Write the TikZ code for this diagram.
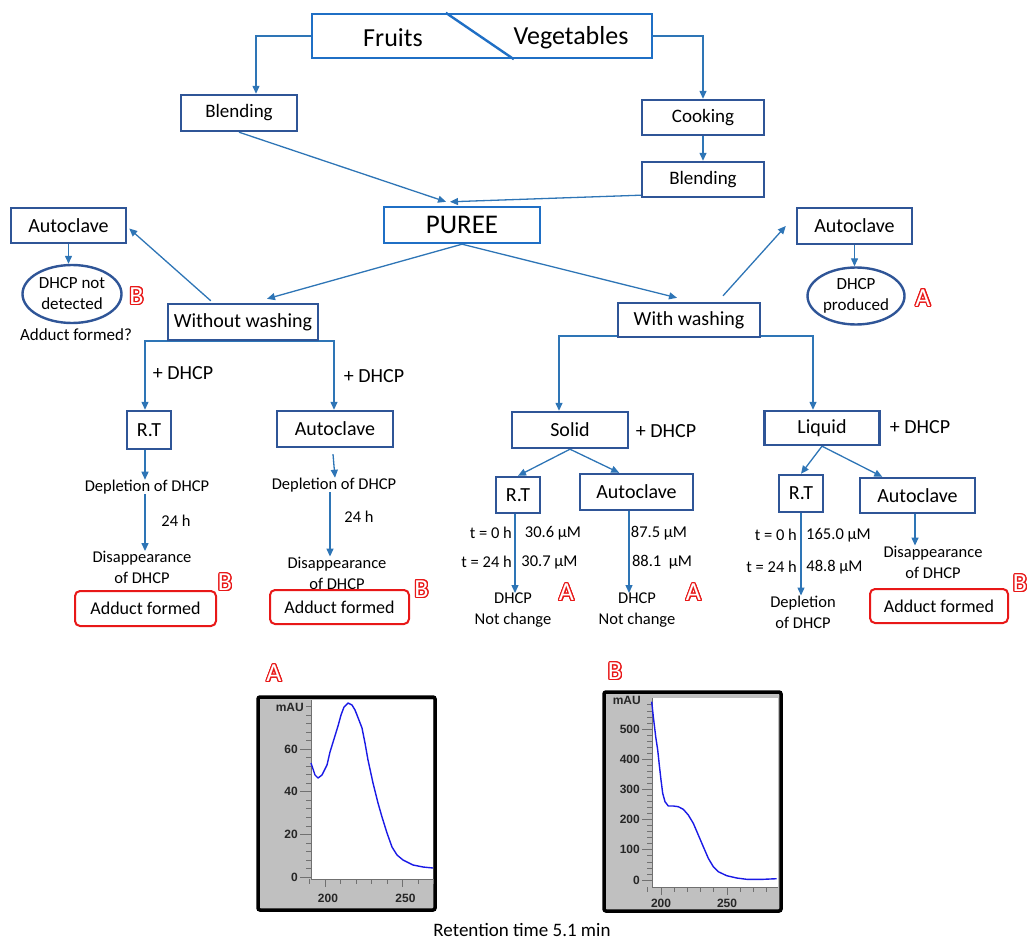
\documentclass[tikz,border=0pt]{standalone}
\usepackage{fontspec}
\setmainfont{Carlito}
\newfontfamily\plotfont{Liberation Sans}
\usepackage{contour}
\contourlength{1.2pt}
\usetikzlibrary{arrows.meta,shapes.geometric,calc}
\definecolor{connc}{HTML}{2E75B6}
\definecolor{boxc}{HTML}{2F5597}
\definecolor{topc}{HTML}{1F6FC5}
\definecolor{redc}{HTML}{E81818}
\definecolor{plotgray}{HTML}{C0C0C0}
\definecolor{curvec}{HTML}{1A1AE6}
\definecolor{tickc}{HTML}{707070}
\pgfdeclarelayer{bg}
\pgfsetlayers{bg,main}
\newcommand\outl[1]{\contour{redc}{\textcolor{white}{#1}}}
\begin{document}
\begin{tikzpicture}[x=1pt,y=-1pt,
  >={Triangle[length=8pt,width=7pt]},
  box/.style={draw=boxc, line width=2.4pt, fill=white, inner sep=0pt, font=\fontsize{20}{24}\selectfont},
  tbox/.style={box, draw=topc},
  bbox/.style={box, font=\fontsize{19}{23}\selectfont},
  oval/.style={ellipse, draw=boxc, line width=2.4pt, fill=white, inner sep=0pt, minimum width=99pt, minimum height=58pt, align=center, font=\fontsize{17}{21}\selectfont},
  conn/.style={draw=connc, line width=1.3pt, ->},
  lbl/.style={inner sep=0pt, align=center, font=\fontsize{16.5}{21}\selectfont},
  plus/.style={inner sep=0pt, font=\fontsize{20}{24}\selectfont},
  redbox/.style={draw=redc, line width=2pt, rounded corners=5pt, fill=white, inner sep=0pt, font=\fontsize{18}{22}\selectfont},
  letter/.style={inner sep=0pt, font=\fontsize{26}{26}\selectfont},
  plbl/.style={inner sep=0pt, font=\plotfont\bfseries\fontsize{12}{12}\selectfont, text=black!85},
  frame/.style={draw=black, line width=3.5pt, fill=plotgray, rounded corners=2pt},
  curve/.style={draw=curvec, line width=1.4pt, line join=round}
]
\useasboundingbox (0,0) rectangle (1027,941);

% ---------- top ----------
\node[tbox, minimum width=340pt, minimum height=44pt] (top) at (482,36) {};
\node[inner sep=0pt, font=\fontsize{26}{30}\selectfont] (fr) at (393,38) {Fruits};
\node[inner sep=0pt, font=\fontsize{26}{30}\selectfont] (vg) at (571,38) {Vegetables};
\draw[topc, line width=2.4pt] ($(top.north west)+(135,0)$) -- ($(top.south west)+(203,0)$);

\node[bbox, minimum width=116pt, minimum height=36pt] (blend1) at (239,113) {Blending};
\node[bbox, minimum width=122pt, minimum height=35pt] (cook) at (703,117.5) {Cooking};
\node[bbox, minimum width=122pt, minimum height=35pt] (blend2) at (703,179.5) {Blending};
\node[tbox, minimum width=156pt, minimum height=36pt, font=\fontsize{27}{30}\selectfont] (puree) at (462,225) {PUREE};

\node[box, minimum width=115pt, minimum height=35pt] (auto1) at (68.5,225.5) {Autoclave};
\node[oval] (nd) at (72,294) {DHCP not\\detected};
\node[lbl, font=\fontsize{17}{21}\selectfont] (adq) at (76,335) {Adduct formed?};
\node[letter] (b1) at (136.5,296.5) {\outl{B}};
\node[box, minimum width=150pt, minimum height=36pt] (ww) at (243,322) {Without washing};

\node[box, minimum width=115pt, minimum height=36pt] (auto2) at (854.5,226) {Autoclave};
\node[oval, minimum width=97pt, minimum height=57pt] (dp) at (856,296) {DHCP\\produced};
\node[letter] (a1) at (923,298.5) {\outl{A}};
\node[box, minimum width=142pt, minimum height=34pt] (wash) at (689,320) {With washing\hspace{12pt}};

% ---------- without washing ----------
\node[box, minimum width=44pt, minimum height=38pt] (rt1) at (149,430) {R.T};
\node[box, minimum width=116pt, minimum height=36pt] (au3) at (335,429) {Autoclave};
\node[plus] (pd1) at (183,373) {+ DHCP};
\node[plus] (pd2) at (374,376) {+ DHCP};
\node[lbl] (dep1) at (147,487) {Depletion of DHCP};
\node[lbl] (h1) at (176,521) {24 h};
\node[lbl] (dis1) at (142,567.5) {Disappearance\\of DHCP};
\node[redbox, minimum width=141pt, minimum height=35pt] (ad1) at (145.5,608.5) {Adduct formed};
\node[letter] (b2) at (225,583) {\outl{B}};
\node[lbl] (dep2) at (334,485) {Depletion of DHCP};
\node[lbl] (h2) at (359,517) {24 h};
\node[lbl] (dis2) at (337,573) {Disappearance\\of DHCP};
\node[redbox, minimum width=139pt, minimum height=34pt] (ad2) at (339.5,607) {Adduct formed};
\node[letter] (b3) at (421.5,589.5) {\outl{B}};

% ---------- solid ----------
\node[box, minimum width=116pt, minimum height=36pt] (solid) at (570,430) {Solid};
\node[plus] (pd3) at (666,431) {+ DHCP};
\node[box, minimum width=44pt, minimum height=36pt] (srt) at (518,495) {R.T};
\node[box, minimum width=113pt, minimum height=36pt] (sau) at (636.5,492) {Autoclave};
\node[lbl, anchor=east] (st0) at (512,533) {t = 0 h};
\node[lbl] (sv0) at (553,533) {30.6 μM};
\node[lbl, anchor=east] (st24) at (512,562) {t = 24 h};
\node[lbl] (sv24) at (549.5,562) {30.7 μM};
\node[lbl] (av0) at (659,533) {87.5 μM};
\node[lbl] (av24) at (662,562) {88.1\ \ μM};
\node[lbl] (sdh1) at (513,610.5) {DHCP\\Not change};
\node[lbl] (sdh2) at (637,610.5) {DHCP\\Not change};
\node[letter] (a2) at (566.5,593) {\outl{A}};
\node[letter] (a3) at (693.5,593) {\outl{A}};

% ---------- liquid ----------
\node[box, minimum width=115pt, minimum height=34pt] (liquid) at (822,428) {Liquid};
\node[plus] (pd4) at (920,427) {+ DHCP};
\node[box, minimum width=44pt, minimum height=37pt] (lrt) at (801,493.5) {R.T};
\node[box, minimum width=115pt, minimum height=35pt] (lau) at (917.5,495.5) {Autoclave};
\node[lbl, anchor=east] (lt0) at (797,535) {t = 0 h};
\node[lbl] (lv0) at (838.5,535) {165.0 μM};
\node[lbl, anchor=east] (lt24) at (797,567) {t = 24 h};
\node[lbl] (lv24) at (834.5,567) {48.8 μM};
\node[lbl] (ldep) at (803,612) {Depletion\\of DHCP};
\node[lbl] (ldis) at (933,562) {Disappearance\\of DHCP};
\node[redbox, minimum width=138pt, minimum height=34pt] (ad3) at (939,606) {Adduct formed};
\node[letter] (b4) at (1020,584) {\outl{B}};

% ---------- connectors ----------
\begin{pgfonlayer}{bg}
\draw[conn] (top.west) -| ($(blend1.north)+(17,0)$);
\draw[conn] (top.east) -| (cook.north);
\draw[conn] (cook.south) -- (blend2.north);
\draw[conn] (blend1.south) -- ($(puree.north)+(-16,-4)$);
\draw[conn] ($(blend2.south west)+(0,-3)$) -- ($(puree.north)+(-12,-4)$);
\draw[conn] (puree.south) -- ($(ww.north)+(24,-4)$);
\draw[conn] (puree.south) -- ($(wash.north)+(-12,-4)$);
\draw[conn] ($(ww.north west)+(44,-2)$) -- ($(auto1.east)+(2,3)$);
\draw[conn] ($(wash.north)+(34,-6)$) -- ($(auto2.west)+(-10,0)$);
\draw[conn] (auto1.south) -- (auto1.south |- nd.north);
\draw[conn] (auto2.south) -- (auto2.south |- dp.north);

\coordinate (wl) at (145,341);
\coordinate (wr) at (334,341);
\draw[conn,<->] (rt1.north -| wl) -- (wl) -- (wr) -- (au3.north -| wr);
\draw[conn] (rt1.south -| wl) -- (dep1.north -| wl);
\draw[conn] (dep1.south -| wl) -- (dis1.north -| wl);
\draw[conn] ($(au3.south)+(-2,6)$) -- (dep2.north -| au3.south);
\coordinate (c2) at (330,0);
\draw[conn] (dep2.south -| c2) -- (dis2.north -| c2);

\coordinate (sl) at (559,336);
\coordinate (sr) at (813,336);
\draw[conn,<->] (solid.north -| sl) -- (sl) -- (sr) -- (liquid.north -| sr);
\draw[conn] (solid.south) -- (srt.north);
\draw[conn] (solid.south) -- ($(sau.north west)!0.35!(sau.north east)$);
\coordinate (c3) at (515,0);
\draw[conn] (srt.south -| c3) -- (sdh1.north -| c3);
\coordinate (c4) at (629,0);
\draw[conn] (sau.south -| c4) -- (sdh2.north -| c4);
\draw[conn] (liquid.south) -- (lrt.north);
\draw[conn] (liquid.south) -- ($(lau.north west)!0.2!(lau.north east)$);
\draw[conn] (lrt.south) -- (ldep.north -| lrt.south);
\coordinate (c5) at (915,0);
\draw[conn] (lau.south -| c5) -- (ldis.north -| c5);
\end{pgfonlayer}

% ---------- plot A ----------
\node[letter] (pa) at (274,674) {\outl{A}};
\draw[frame] (258,697) rectangle (435,910);
\fill[white] (311,700) rectangle (433,879);
\foreach \v in {0,4,...,80} \draw[tickc, line width=0.7pt] (306,{877-2.13*\v}) -- (311,{877-2.13*\v});
\foreach \v in {0,20,40,60} {
  \draw[tickc, line width=0.8pt] (300,{877-2.13*\v}) -- (311,{877-2.13*\v});
  \node[plbl, anchor=east] (ya\v) at (298,{877-2.13*\v}) {\v};
}
\node[plbl, anchor=east] (yamau) at (304,707) {mAU};
\foreach \l in {190,200,...,270} \draw[tickc, line width=0.7pt] ({325+1.55*(\l-200)},879) -- ({325+1.55*(\l-200)},884);
\foreach \l in {200,250} {
  \draw[tickc, line width=0.8pt] ({325+1.55*(\l-200)},879) -- ({325+1.55*(\l-200)},887);
  \node[plbl] (xa\l) at ({328+1.55*(\l-200)},898) {\l};
}
\draw[tickc, line width=0.9pt] (311,700) -- (311,879) -- (433,879);
\draw[curve] plot coordinates {(311,763) (315,775) (318,778) (322,775) (327,765) (330,752) (334,739) (338,726) (341,715) (344,707) (348,703) (352,705) (355,710) (357,715) (362,728) (365,743) (368,760) (373,783) (378,803) (382,817) (387,833) (392,847) (397,855) (403,860) (413,865) (423,867) (433,868)};

% ---------- plot B ----------
\node[letter] (pb) at (615,672) {\outl{B}};
\draw[frame] (604,692) rectangle (781,911);
\fill[white] (652,698) rectangle (778,887);
\foreach \v in {0,20,...,580} \draw[tickc, line width=0.7pt] (647,{880-0.302*\v}) -- (652,{880-0.302*\v});
\foreach \v in {0,100,...,500} {
  \draw[tickc, line width=0.8pt] (642,{880-0.302*\v}) -- (652,{880-0.302*\v});
  \node[plbl, anchor=east] (yb\v) at (640,{880-0.302*\v}) {\v};
}
\node[plbl, anchor=east] (ybmau) at (641,700) {mAU};
\foreach \l in {190,200,...,280} \draw[tickc, line width=0.7pt] ({661+1.32*(\l-200)},887) -- ({661+1.32*(\l-200)},892);
\foreach \l in {200,250} {
  \draw[tickc, line width=0.8pt] ({661+1.32*(\l-200)},887) -- ({661+1.32*(\l-200)},895);
  \node[plbl] (xb\l) at ({661+1.32*(\l-200)},903) {\l};
}
\draw[tickc, line width=0.9pt] (652,698) -- (652,887) -- (778,887);
\draw[curve] plot coordinates {(651.7,701.7) (653.3,716.7) (655.7,736.7) (657.7,750) (659.3,765) (661,780) (662.7,793.3) (665,801.7) (668.3,806) (673.3,806) (678.3,806.7) (683.3,809.3) (688.3,815) (693.3,823.3) (698.3,835) (703.3,846.7) (708.3,858.3) (713.3,866.7) (718.3,871.7) (726.7,875.7) (736.7,878) (746.7,879.3) (763.3,879.3) (776.7,878.7)};

\node[inner sep=0pt, font=\fontsize{19}{22}\selectfont] (ret) at (522,930) {Retention time 5.1 min};
\end{tikzpicture}
\end{document}
